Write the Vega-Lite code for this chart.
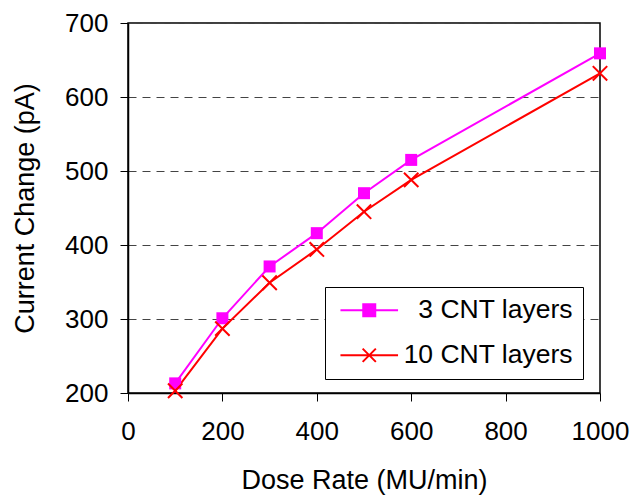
{
  "$schema": "https://vega.github.io/schema/vega-lite/v6.json",
  "width": 472,
  "height": 370,
  "autosize": {"type": "none"},
  "padding": {"left": 128, "top": 23, "right": 30, "bottom": 103},
  "background": "white",
  "config": {
    "font": "Liberation Sans",
    "view": {"stroke": "black", "strokeWidth": 1.5},
    "axis": {
      "domainColor": "black",
      "domainWidth": 1.5,
      "tickColor": "black",
      "tickWidth": 1,
      "tickSize": 8,
      "labelColor": "black",
      "labelFontSize": 26,
      "labelFont": "Liberation Sans",
      "titleColor": "black",
      "titleFontSize": 27,
      "titleFontWeight": "normal",
      "titleFont": "Liberation Sans"
    }
  },
  "data": {
    "values": [
      {"dose": 100, "current": 213, "series": "3 CNT layers"},
      {"dose": 200, "current": 301, "series": "3 CNT layers"},
      {"dose": 300, "current": 371, "series": "3 CNT layers"},
      {"dose": 400, "current": 416, "series": "3 CNT layers"},
      {"dose": 500, "current": 470, "series": "3 CNT layers"},
      {"dose": 600, "current": 515, "series": "3 CNT layers"},
      {"dose": 1000, "current": 659, "series": "3 CNT layers"},
      {"dose": 100, "current": 203, "series": "10 CNT layers"},
      {"dose": 200, "current": 287, "series": "10 CNT layers"},
      {"dose": 300, "current": 349, "series": "10 CNT layers"},
      {"dose": 400, "current": 394, "series": "10 CNT layers"},
      {"dose": 500, "current": 445, "series": "10 CNT layers"},
      {"dose": 600, "current": 488, "series": "10 CNT layers"},
      {"dose": 1000, "current": 632, "series": "10 CNT layers"}
    ]
  },
  "encoding": {
    "x": {
      "field": "dose",
      "type": "quantitative",
      "scale": {"domain": [0, 1000], "nice": false, "zero": false},
      "axis": {
        "title": "Dose Rate (MU/min)",
        "values": [0, 200, 400, 600, 800, 1000],
        "format": "d",
        "grid": false,
        "labelFlush": false,
        "labelPadding": 17,
        "titlePadding": 23,
        "encode": {"labels": {"update": {"dx": {"signal": "datum.value === 1000 ? -8 : 0"}}}}
      }
    },
    "y": {
      "field": "current",
      "type": "quantitative",
      "scale": {"domain": [200, 700], "nice": false, "zero": false},
      "axis": {
        "title": "Current Change (pA)",
        "values": [200, 300, 400, 500, 600, 700],
        "format": "d",
        "grid": true,
        "gridColor": "#444444",
        "gridDash": [8, 6],
        "gridWidth": 1,
        "labelPadding": 12,
        "titlePadding": 25
      }
    }
  },
  "layer": [
    {
      "mark": {"type": "line", "strokeWidth": 2},
      "encoding": {
        "color": {
          "field": "series",
          "type": "nominal",
          "scale": {"domain": ["3 CNT layers", "10 CNT layers"], "range": ["#ff00ff", "#ff0000"]},
          "legend": {
            "title": null,
            "orient": "none",
            "legendX": 197,
            "legendY": 264,
            "padding": 10,
            "strokeColor": "black",
            "fillColor": "white",
            "symbolSize": 576,
            "symbolOffset": 21,
            "symbolStrokeWidth": 2,
            "labelOffset": 190,
            "labelAlign": "right",
            "labelFontSize": 26.5,
            "labelColor": "black",
            "labelFont": "Liberation Sans",
            "labelLimit": 400,
            "rowPadding": 18,
            "encode": {
              "symbols": {
                "update": {
                  "shape": {"signal": "datum.value === '3 CNT layers' ? 'M-2.4,0H2.4M-0.5,-0.5H0.5V0.5H-0.5Z' : 'M-2.4,0H2.4M-0.55,-0.55L0.55,0.55M-0.55,0.55L0.55,-0.55'"},
                  "fill": {"signal": "datum.value === '3 CNT layers' ? '#ff00ff' : 'transparent'"},
                  "strokeWidth": {"value": 2},
                  "size": {"value": 576}
                }
              }
            }
          }
        }
      }
    },
    {
      "transform": [{"filter": "datum.series === '3 CNT layers'"}],
      "mark": {"type": "point", "shape": "square", "filled": true, "size": 144, "color": "#ff00ff", "opacity": 1}
    },
    {
      "transform": [{"filter": "datum.series === '10 CNT layers'"}],
      "mark": {"type": "point", "shape": "M-1.2,-1.2L1.2,1.2M-1.2,1.2L1.2,-1.2", "filled": false, "size": 144, "color": "#ff0000", "strokeWidth": 2, "opacity": 1}
    }
  ]
}
